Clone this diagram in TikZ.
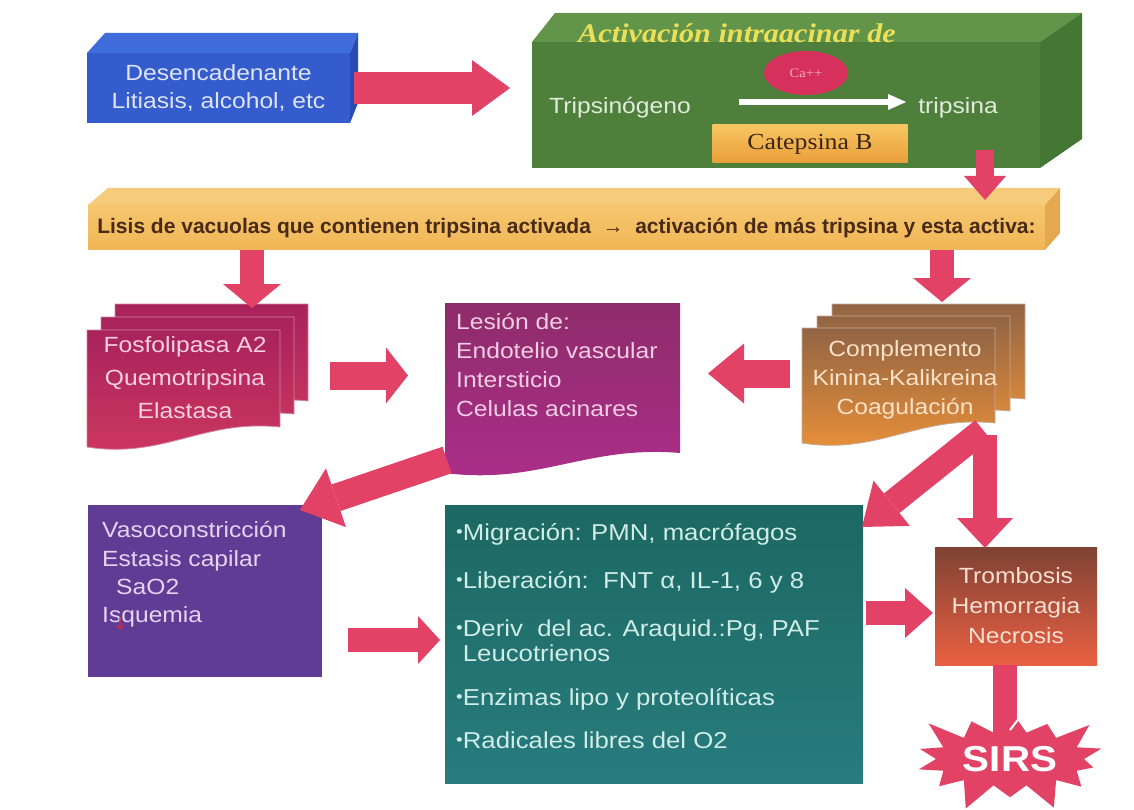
\documentclass[tikz,border=0pt]{standalone}
\usepackage{fontspec}
\setmainfont{Liberation Sans}[FakeStretch=1.12]
\newfontfamily\serifface{Liberation Serif}[FakeStretch=1.12]
\newfontfamily\barface{Liberation Sans}[FakeStretch=1.0]
\newfontfamily\arrowface{DejaVu Sans}
\usetikzlibrary{arrows.meta,shapes.geometric,shapes.symbols,calc}

\definecolor{arrowred}{RGB}{226,66,102}
\definecolor{bluefront}{RGB}{52,92,205}
\definecolor{bluetop}{RGB}{62,108,218}
\definecolor{blueside}{RGB}{40,75,180}
\definecolor{bluetext}{RGB}{222,228,248}
\definecolor{greenfront}{RGB}{78,128,60}
\definecolor{greentop}{RGB}{98,148,74}
\definecolor{greenside}{RGB}{68,118,52}
\definecolor{greentext}{RGB}{225,235,220}
\definecolor{titleyellow}{RGB}{236,224,88}
\definecolor{cared}{RGB}{214,48,92}
\definecolor{capink}{RGB}{245,170,190}
\definecolor{catepyellow}{RGB}{246,198,96}
\definecolor{catepdeep}{RGB}{234,158,58}
\definecolor{cateptext}{RGB}{60,38,24}
\definecolor{barfront}{RGB}{240,182,86}
\definecolor{barlight}{RGB}{246,198,110}
\definecolor{bartop}{RGB}{246,204,124}
\definecolor{barside}{RGB}{228,168,78}
\definecolor{bartext}{RGB}{72,42,22}
\definecolor{fosftop}{RGB}{168,34,92}
\definecolor{fosfbottom}{RGB}{206,56,96}
\definecolor{fosftext}{RGB}{248,208,222}
\definecolor{lesiontop}{RGB}{142,44,106}
\definecolor{lesionbottom}{RGB}{172,46,138}
\definecolor{lesiontext}{RGB}{242,205,228}
\definecolor{compltop}{RGB}{146,100,68}
\definecolor{complbottom}{RGB}{236,146,56}
\definecolor{compltext}{RGB}{250,226,200}
\definecolor{vasofill}{RGB}{96,60,148}
\definecolor{vasotext}{RGB}{228,212,242}
\definecolor{tealtop}{RGB}{28,104,98}
\definecolor{tealbottom}{RGB}{40,124,126}
\definecolor{tealtext}{RGB}{208,236,230}
\definecolor{tromtop}{RGB}{126,66,52}
\definecolor{trombottom}{RGB}{234,96,66}
\definecolor{tromtext}{RGB}{250,222,210}
\definecolor{smallred}{RGB}{220,40,60}

\newcommand{\sheet}[5]{%
  \path[#5] (#1,#2) -- ({#1+#3},#2) -- ({#1+#3},{#2+#4-20})
    .. controls ({#1+0.6*#3},{#2+#4-28}) and ({#1+0.4*#3},{#2+#4+12}) .. (#1,{#2+#4}) -- cycle;}
\newcommand{\slab}[6]{%
  \fill[#5] (#1.north west) -- ++(#2,-#4) -- ($(#1.north east)+(#3,-#4)$) -- (#1.north east) -- cycle;
  \fill[#6] (#1.north east) -- ($(#1.north east)+(#3,-#4)$) -- ($(#1.south east)+(#3,-#4)$) -- (#1.south east) -- cycle;}
\newcommand{\blt}{\raisebox{3pt}{\fontsize{17}{17}\selectfont •}}

\begin{document}
\begin{tikzpicture}[x=1pt,y=-1pt,
  face/.style={inner sep=0pt,outer sep=0pt,align=center},
  txt/.style={font=\fontsize{22}{28}\selectfont,inner sep=0pt,align=center},
  fosfshade/.style={top color=fosftop,bottom color=fosfbottom,draw=white!45!fosftop,line width=0.8pt},
  lesionshade/.style={top color=lesiontop,bottom color=lesionbottom},
  complshade/.style={top color=compltop,bottom color=complbottom,draw=white!45!compltop,line width=0.8pt},
  blockarrow/.style n args={3}{draw=arrowred,line width=#1,-{Triangle[length=#2,width=#3,line width=0pt]}}]
\useasboundingbox[fill=white] (0,0) rectangle (1134,810);

\node[face,minimum width=263pt,minimum height=70pt,fill=bluefront,txt,text=bluetext] (desenc) at (218.5,88) {Desencadenante\\Litiasis, alcohol, etc};
\slab{desenc}{18}{8}{20}{bluetop}{blueside}
\node[face,minimum width=508pt,minimum height=126pt,fill=greenfront] (green) at (786,105) {};
\slab{green}{23}{42}{29}{greentop}{greenside}
\node[font=\serifface\bfseries\itshape\fontsize{27}{30}\selectfont,text=titleyellow] (title) at (737,33) {Activación intraacinar de};
\node[ellipse,fill=cared,minimum width=84pt,minimum height=44pt,inner sep=0pt,font=\serifface\fontsize{13}{13}\selectfont,text=capink] (ca) at (806,73) {Ca++};
\node[txt,text=greentext] (trips) at (620,108) {Tripsinógeno};
\node[txt,text=greentext] (tripsina) at (958,108) {tripsina};
\draw[white,line width=6pt,-{Triangle[length=18pt,width=16pt,line width=0pt]}] ($(trips.east)+(48,-6)$) -- ($(tripsina.west)+(-12,-6)$);
\node[face,minimum width=195pt,minimum height=38pt,top color=catepyellow,bottom color=catepdeep,font=\serifface\fontsize{23}{23}\selectfont,text=cateptext] (catep) at (810,144) {Catepsina B};

\node[face,minimum width=957pt,minimum height=45pt,top color=barlight,bottom color=barfront,font=\barface\bfseries\fontsize{21}{21}\selectfont,text=bartext] (bar) at (566.5,227.5) {Lisis de vacuolas que contienen tripsina activada \ → \ activación de más tripsina y esta activa:};
\slab{bar}{20}{15}{17}{bartop}{barside}

\sheet{115}{304}{193}{117}{fosfshade}
\sheet{101}{317}{193}{117}{fosfshade}
\sheet{87}{330}{193}{117}{fosfshade}
\node[face,minimum width=221pt,minimum height=143pt] (fosf) at (197.5,375.5) {};
\node[txt,font=\fontsize{22}{33}\selectfont,text=fosftext] (fosftext) at (185,378) {Fosfolipasa A2\\Quemotripsina\\Elastasa};

\sheet{445}{303}{235}{170}{lesionshade}
\node[face,minimum width=235pt,minimum height=170pt] (lesion) at (562.5,388) {};
\node[txt,font=\fontsize{22}{29}\selectfont,align=left,anchor=west,text=lesiontext] (lesiontext) at (456,365) {Lesión de:\\Endotelio vascular\\Intersticio\\Celulas acinares};

\sheet{832}{304}{193}{115}{complshade}
\sheet{817}{316}{193}{115}{complshade}
\sheet{802}{328}{193}{115}{complshade}
\node[face,minimum width=223pt,minimum height=139pt] (compl) at (913.5,373.5) {};
\node[txt,font=\fontsize{22}{29}\selectfont,text=compltext] (compltext) at (905,380) {Complemento\\Kinina-Kalikreina\\Coagulación};

\node[face,minimum width=234pt,minimum height=172pt,fill=vasofill] (vaso) at (205,591) {};
\node[txt,font=\fontsize{22}{28.3}\selectfont,align=left,anchor=west,text=vasotext] (vasotext) at (102,574.5) {Vasoconstricción\\Estasis capilar\\\hspace*{14pt}SaO2\\Isquemia};
\node[font=\arrowface\fontsize{16}{16}\selectfont,text=smallred,inner sep=0pt] (down) at (120,624) {↓};

\node[face,minimum width=418pt,minimum height=278pt,top color=tealtop,bottom color=tealbottom] (teal) at (654,644) {};
\node[txt,font=\fontsize{23}{25}\selectfont,align=left,anchor=west,text=tealtext] (tealtext) at (456,636) {\blt Migración: PMN, macrófagos\\[23pt]
\blt Liberación:\ \ FNT α, IL-1, 6 y 8\\[23pt]
\blt Deriv\ \ del ac. Araquid.:Pg, PAF\\
\phantom{\blt}Leucotrienos\\[19pt]
\blt Enzimas lipo y proteolíticas\\[18pt]
\blt Radicales libres del O2};

\node[face,minimum width=162pt,minimum height=118pt,top color=tromtop,bottom color=trombottom,txt,font=\fontsize{22}{30}\selectfont,text=tromtext] (trom) at (1016,606) {Trombosis\\Hemorragia\\Necrosis};
\coordinate (sirsin) at (1005,752);

\draw[blockarrow={32pt}{38pt}{56pt},shorten <=4pt,shorten >=22pt] (desenc.east) -- (desenc.east -| green.west);
\draw[blockarrow={18pt}{24pt}{42pt}] ($(green.south east)+(-55,-18)$) -- ($(bar.north east)+(-60,-5)$);
\draw[blockarrow={24pt}{24pt}{58pt}] ($(bar.south west)+(164,0)$) -- ($(fosf.north east)+(-56,4)$);
\draw[blockarrow={24pt}{24pt}{58pt}] ($(bar.south east)+(-103,0)$) -- ($(compl.north west)+(140,-2)$);
\draw[blockarrow={28pt}{22pt}{56pt},shorten <=22pt,shorten >=37pt] (fosf.east) -- (fosf.east -| lesion.west);
\draw[blockarrow={28pt}{36pt}{60pt},shorten <=12pt,shorten >=28pt] (compl.west) -- (compl.west -| lesion.east);
\draw[blockarrow={28pt}{38pt}{62pt}] ($(lesion.south west)+(2,-13)$) -- ($(vaso.north east)+(-22,5)$);
\draw[blockarrow={24pt}{22pt}{48pt}] ($(vaso.east)+(26,49)$) -- ($(teal.west)+(-5,-4)$);
\draw[blockarrow={25pt}{38pt}{58pt}] ($(compl.south east)+(-42,-13)$) -- ($(teal.north east)+(-1,22)$);
\draw[blockarrow={24pt}{30pt}{56pt}] ($(compl.south east)+(-40,-8)$) -- ($(trom.north west)+(50,1)$);
\draw[blockarrow={24pt}{28pt}{50pt}] ($(teal.east)+(3,-31)$) -- ($(trom.west)+(-2,7)$);
\draw[blockarrow={24pt}{18pt}{34pt}] ($(trom.south)+(-11,0)$) -- (sirsin);

\node[starburst,fill=arrowred,minimum width=212pt,minimum height=118pt,starburst points=14,starburst point height=32pt,inner sep=0pt,text=white,font=\bfseries\fontsize{36}{36}\selectfont] (sirs) at (1010,759) {SIRS};
\draw[white,line width=2pt] (1010,730) -- (1027,708);
\end{tikzpicture}
\end{document}
